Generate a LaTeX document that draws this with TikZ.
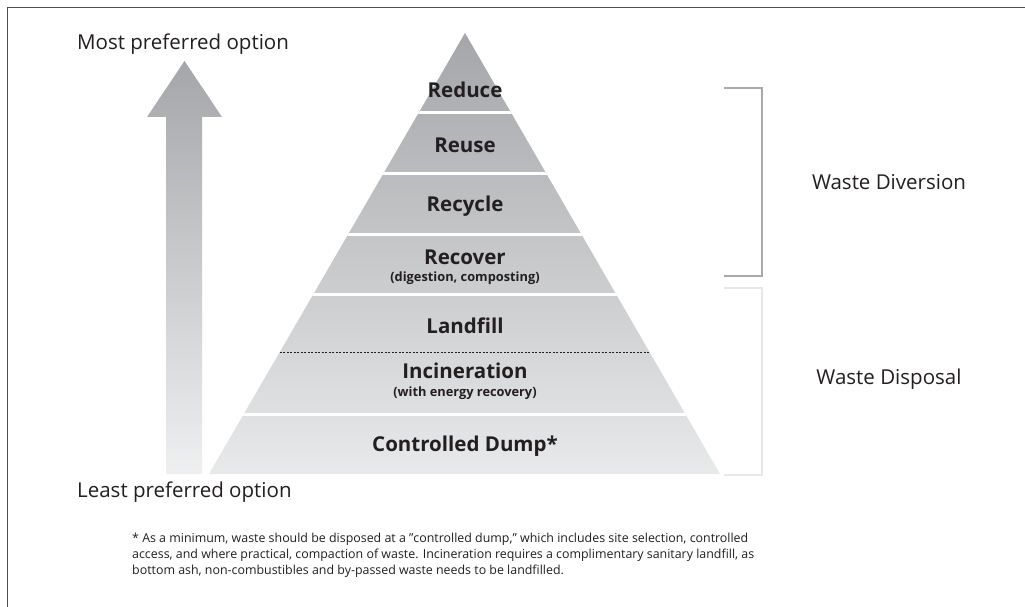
\documentclass[tikz,border=0pt]{standalone}
\usepackage{fontspec}
\setmainfont{Open Sans}
\usepackage{xcolor}
\usetikzlibrary{calc,positioning}

\definecolor{inkgray}{HTML}{231F20}
\definecolor{topgray}{HTML}{A4A6A9}
\definecolor{lowgray}{HTML}{E8E9EA}
\definecolor{bracketdark}{HTML}{A7A9AC}
\definecolor{bracketlight}{HTML}{E6E7E8}
\definecolor{framegray}{HTML}{4D4D4F}

\newcommand{\straightquote}{\symbol{34}}

\tikzset{
  layer/.style = {font = \bfseries\fontsize{20.5}{24}\selectfont, text = inkgray, inner sep = 0pt},
  sublabel/.style = {font = \bfseries\fontsize{12.8}{14}\selectfont, text = inkgray, inner sep = 0pt},
  sidelabel/.style = {font = \fontsize{20.5}{24}\selectfont, text = inkgray, inner sep = 0pt},
  footnote/.style = {font = \fontsize{12.4}{16}\selectfont, text = inkgray, align = left, inner sep = 0pt}
}

\begin{document}
\begin{tikzpicture}[x = 1pt, y = -1pt]

\useasboundingbox (0,0) rectangle (1025,607);
\fill[white] (0,0) rectangle (1025,607);

% frame
\draw[framegray, line width = 1.4pt] (7.3,607) -- (7.3,7.3) -- (1025,7.3);

% arrow
\shade[top color = topgray, bottom color = lowgray!70!white]
  (184.5,61) -- (222,117) -- (202,117) -- (202,474)
  -- (166,474) -- (166,117) -- (147,117) -- cycle;

\node[sidelabel, anchor = base west] (most) at (77,50) {Most preferred option};
\node[sidelabel, anchor = base west] (least) at (77,497) {Least preferred option};

% pyramid
\coordinate (apex) at (465,33);
\coordinate (baseL) at (209,474);
\coordinate (baseR) at (720,474);

\shade[top color = topgray, bottom color = lowgray] (apex) -- (baseR) -- (baseL) -- cycle;

\begin{scope}
\clip (apex) -- (baseR) -- (baseL) -- cycle;
\foreach \y in {113,173,234,294,414}
  \draw[white, line width = 3pt] (150,\y) -- (780,\y);
\end{scope}

\draw[inkgray, line width = 0.8pt, dash pattern = on 2pt off 1.5pt]
  ($(apex)!{319/441}!(baseL)$) -- ($(apex)!{319/441}!(baseR)$);

\node[layer] (reduce) at (465,90) {Reduce};
\node[layer] (reuse) at (465,145) {Reuse};
\node[layer] (recycle) at (465,206) {Recycle};
\node[layer] (recover) at (465,257) {Recover};
\node[sublabel] (recovernote) at (465,278) {(digestion, composting)};
\node[layer] (landfill) at (465,326) {Landfill};
\node[layer] (incineration) at (465,371) {Incineration};
\node[sublabel] (incinerationnote) at (465,393) {(with energy recovery)};
\node[layer] (dump) at (465,446) {Controlled Dump*};

% brackets
\draw[bracketdark, line width = 2.5pt] (724,88) -- (762,88) -- (762,276) -- (724,276);
\draw[bracketlight, line width = 2.5pt] (724,288) -- (762,288) -- (762,475) -- (724,475);

\node[sidelabel] (diversion) at (889,182) {Waste Diversion};
\node[sidelabel] (disposal) at (889,379) {Waste Disposal};

% footnote
\node[footnote, anchor = base west] (note) at (132,574)
{* As a minimum, waste should be disposed at a \straightquote controlled dump,\straightquote{} which includes site selection, controlled\\
access, and where practical, compaction of waste. Incineration requires a complimentary sanitary landfill, as\\
bottom ash, non-combustibles and by-passed waste needs to be landfilled.};

\end{tikzpicture}
\end{document}
